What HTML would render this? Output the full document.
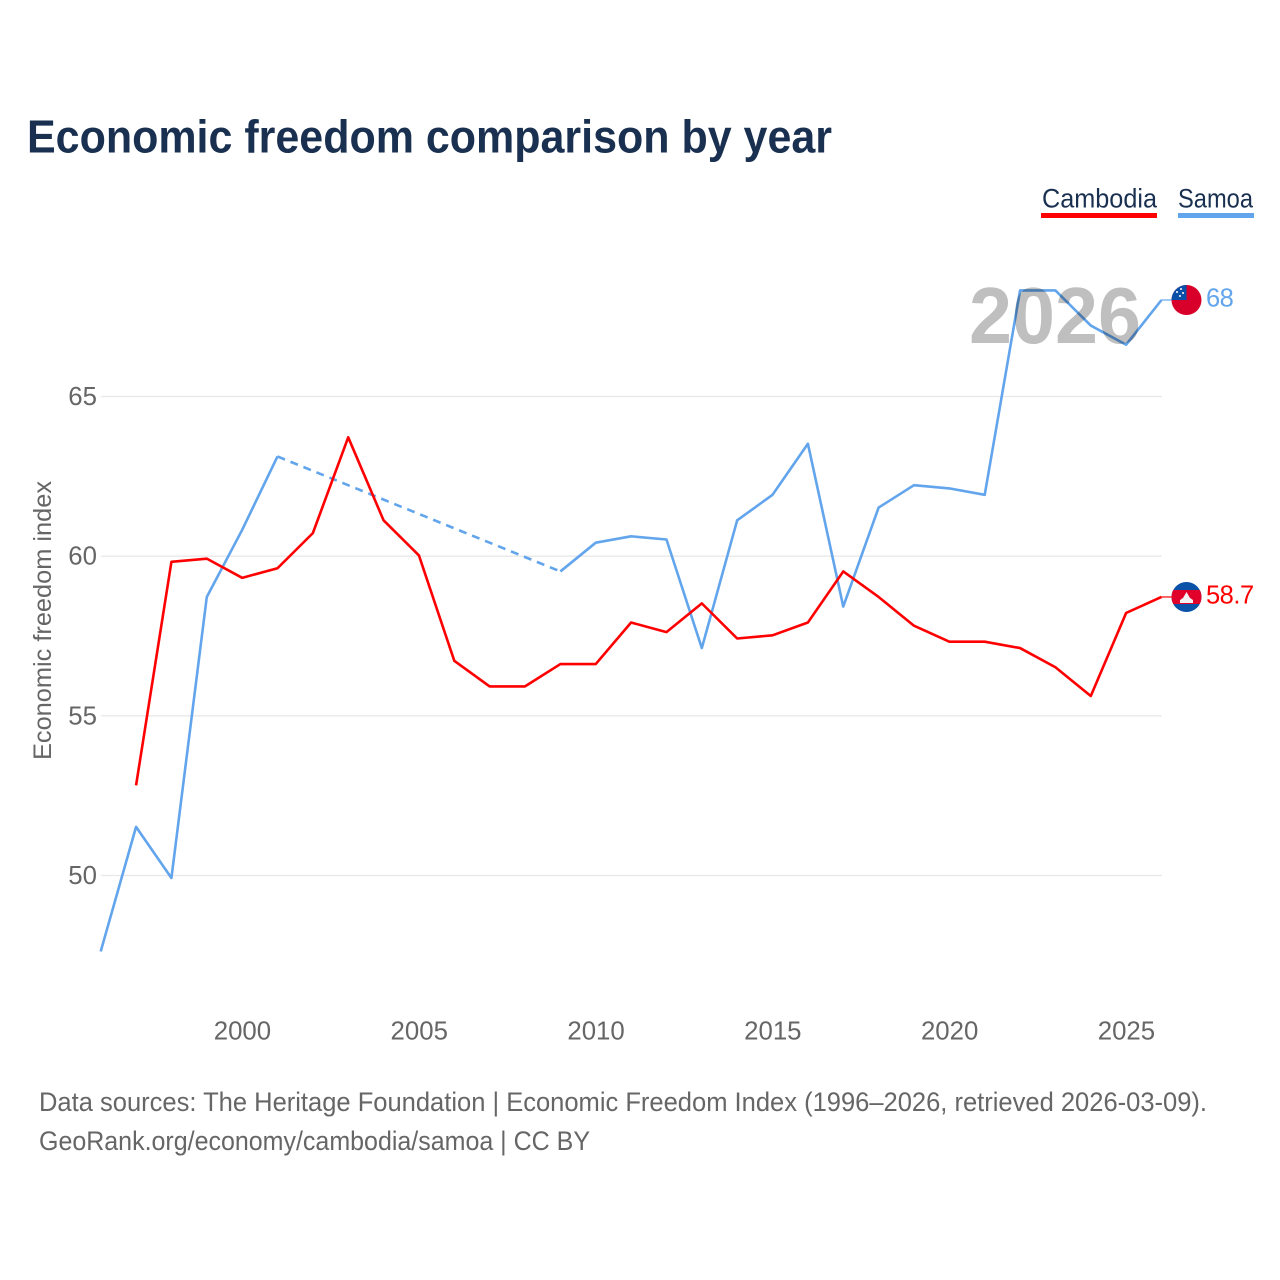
<!DOCTYPE html>
<html lang="en">
<head>
<meta charset="utf-8">
<title>Economic freedom comparison by year</title>
<style>
html,body{margin:0;padding:0;background:#fff;}
svg{display:block;font-family:"Liberation Sans",Arial,sans-serif;}
</style>
</head>
<body>
<svg id="chart" xmlns="http://www.w3.org/2000/svg" width="1280" height="1280" viewBox="0 0 1280 1280">
  <rect width="1280" height="1280" fill="#fff"/>
  <text x="27" y="152.5" font-size="46" font-weight="700" fill="#1a3050" textLength="805" lengthAdjust="spacingAndGlyphs">Economic freedom comparison by year</text>

  <g>
    <g>
      <text x="1042" y="207.5" font-size="27" fill="#1a3050" textLength="115" lengthAdjust="spacingAndGlyphs">Cambodia</text>
      <rect x="1041" y="213" width="116" height="5" fill="#ff0000"/>
    </g>
    <g>
      <text x="1178" y="207.5" font-size="27" fill="#1a3050" textLength="75" lengthAdjust="spacingAndGlyphs">Samoa</text>
      <rect x="1178" y="213" width="76" height="5" fill="#62a5ec"/>
    </g>
  </g>

  <g id="grid"></g>
  <g id="yticks"></g>
  <g id="xticks"></g>
  <text transform="translate(51,620.5) rotate(-90)" text-anchor="middle" font-size="25" fill="#666" textLength="279" lengthAdjust="spacingAndGlyphs">Economic freedom index</text>
  <g id="series"></g>

  <text x="969" y="343" font-size="80" font-weight="700" fill="#000" fill-opacity="0.25" textLength="172" lengthAdjust="spacingAndGlyphs">2026</text>

  <g id="end-labels"></g>

  <defs>
    <clipPath id="flag-clip-samoa"><circle cx="1186.5" cy="300" r="15"/></clipPath>
    <clipPath id="flag-clip-cambodia"><circle cx="1186.5" cy="597" r="15"/></clipPath>
  </defs>
  <g clip-path="url(#flag-clip-samoa)">
    <rect x="1171" y="285" width="31" height="30" fill="#d8002b"/>
    <rect x="1171" y="285" width="15.5" height="15" fill="#0a4fa8"/>
    <circle cx="1181" cy="289" r="1" fill="#fff"/>
    <circle cx="1177" cy="292" r="1" fill="#fff"/>
    <circle cx="1183" cy="293" r="1" fill="#fff"/>
    <circle cx="1180" cy="296" r="1" fill="#fff"/>
  </g>
  <g clip-path="url(#flag-clip-cambodia)">
    <rect x="1171" y="582" width="31" height="30" fill="#0a52a8"/>
    <rect x="1171" y="590" width="31" height="14" fill="#e0002a"/>
    <path d="M1180 603 L1180 600 L1183 598 L1186.5 592 L1190 598 L1193 600 L1193 603 Z" fill="#f2f2f2"/>
  </g>
  <text x="39" y="1111" font-size="27" fill="#666" textLength="1168" lengthAdjust="spacingAndGlyphs">Data sources: The Heritage Foundation | Economic Freedom Index (1996–2026, retrieved 2026-03-09).</text>
  <text x="39" y="1150" font-size="27" fill="#666" textLength="551" lengthAdjust="spacingAndGlyphs">GeoRank.org/economy/cambodia/samoa | CC BY</text>
</svg>
<script>
const years = [1996,1997,1998,1999,2000,2001,2002,2003,2004,2005,2006,2007,2008,2009,2010,2011,2012,2013,2014,2015,2016,2017,2018,2019,2020,2021,2022,2023,2024,2025,2026];
const cambodiaValues = [null,52.8,59.8,59.9,59.3,59.6,60.7,63.7,61.1,60.0,56.7,55.9,55.9,56.6,56.6,57.9,57.6,58.5,57.4,57.5,57.9,59.5,58.7,57.8,57.3,57.3,57.1,56.5,55.6,58.2,58.7];
const samoaValues = [47.6,51.5,49.9,58.7,60.8,63.1,null,null,null,null,null,null,null,59.5,60.4,60.6,60.5,57.1,61.1,61.9,63.5,58.4,61.5,62.2,62.1,61.9,68.3,68.3,67.2,66.6,68.0];
const yTickValues = [50,55,60,65];
const xTickValues = [2000,2005,2010,2015,2020,2025];

const NS = 'http://www.w3.org/2000/svg';
const RED = '#ff0000';
const BLUE = '#62a5ec';
function xScale(year){ return 100.7 + (year - 1996) * (1161.5 - 100.7) / 30; }
function yScale(v){ return 875.5 - (v - 50) * (875.5 - 396.5) / 15; }
function make(tag, attrs, parent){
  const el = document.createElementNS(NS, tag);
  for (const k in attrs) el.setAttribute(k, attrs[k]);
  parent.appendChild(el);
  return el;
}
const gridG = document.getElementById('grid');
const yG = document.getElementById('yticks');
const xG = document.getElementById('xticks');
const seriesG = document.getElementById('series');
const endG = document.getElementById('end-labels');

yTickValues.forEach(function(v){
  const line = make('line', {x1:101, x2:1162, y1:yScale(v), y2:yScale(v), stroke:'#e8e8e8', 'stroke-width':1.3}, gridG);
  
  
  const t = make('text', {x:97, y:yScale(v)+8.5, 'text-anchor':'end', 'font-size':25.8, fill:'#666'}, yG);
  
  
  t.textContent = v;
});
xTickValues.forEach(function(v){
  const t = make('text', {x:xScale(v)+0.3, y:1039.5, 'text-anchor':'middle', 'font-size':25.8, fill:'#666'}, xG);
  
  
  t.textContent = v;
});

function drawSeries(name, values, color){
  let seg = [], segs = [];
  years.forEach(function(y, i){
    if (values[i] === null) { if (seg.length) segs.push(seg); seg = []; }
    else seg.push([xScale(y), yScale(values[i]) - 0.7]);
  });
  if (seg.length) segs.push(seg);
  segs.forEach(function(s, i){
    const p = make('polyline', {points:s.map(function(c){return c[0]+','+c[1];}).join(' '), fill:'none', stroke:color, 'stroke-width':2.6, 'stroke-linejoin':'round'}, seriesG);
    
    
    if (i > 0) {
      const a = segs[i-1][segs[i-1].length-1], b = s[0];
      const d = make('line', {x1:a[0], y1:a[1], x2:b[0], y2:b[1], stroke:color, 'stroke-width':2.6, 'stroke-dasharray':'8 6'}, seriesG);
      
      
    }
  });
  const last = values[values.length - 1];
  const lastX = xScale(years[years.length - 1]);
  const c = make('line', {x1:lastX, x2:1172, y1:yScale(last)-0.7, y2:yScale(last)-0.7, stroke:color, 'stroke-width':1.5, 'stroke-opacity':0.8}, seriesG);
  
  
  const t = make('text', {x:1206, y:yScale(last)+6, 'font-size':25.5, 'letter-spacing':-0.5, fill:color}, endG);
  
  
  t.textContent = last;
}
drawSeries('samoa', samoaValues, BLUE);
drawSeries('cambodia', cambodiaValues, RED);
</script>
</body>
</html>
